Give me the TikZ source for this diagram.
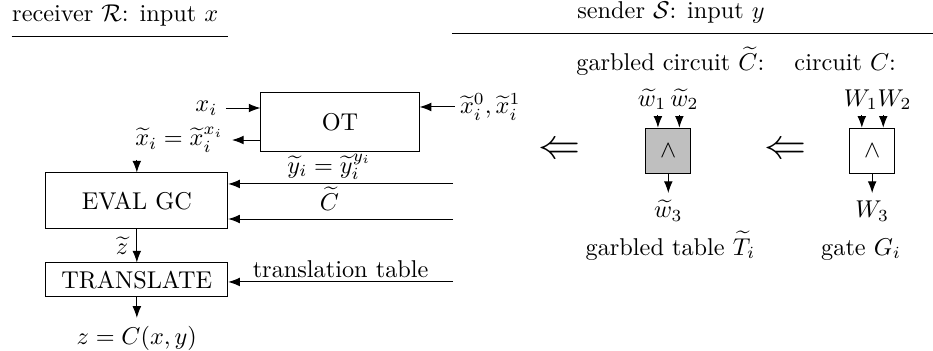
\documentclass[tikz,border=0pt]{standalone}
\usepackage{amsmath, amssymb}
\usetikzlibrary{positioning,arrows.meta}

\begin{document}
\begin{tikzpicture}[
  >=Latex,
  blk/.style={draw, minimum width=2.63cm, inner sep=0pt},
  gate/.style={draw, minimum width=0.65cm, minimum height=0.65cm, inner sep=0pt},
  arr/.style={->},
  lbl/.style={inner sep=1.5pt},
]
\useasboundingbox (0,0) rectangle (13.50,-5.065);

% party headers
\node[anchor=base west, inner sep=0pt] (recv) at (0.17,-0.31) {receiver $\mathcal{R}$: input $x$};
\node[anchor=base, inner sep=0pt] (send) at (9.71,-0.27) {sender $\mathcal{S}$: input $y$};
\draw (0.17,-0.535) -- (3.30,-0.535);
\draw (6.54,-0.49) -- (13.50,-0.49);

% receiver side
\node[draw, minimum width=2.29cm, minimum height=0.84cm] (ot) at (4.92,-1.765) {OT};
\node[blk, minimum height=0.81cm] (eval) at (1.98,-2.908) {EVAL GC};
\node[blk, minimum height=0.49cm] (trans) at (1.98,-4.05) {TRANSLATE};

\coordinate (xin)  at (3.27,-1.563);
\coordinate (xout) at (3.357,-2.026);
\coordinate (kin)  at (6.58,-1.548);
\coordinate (xtop) at (1.98,-2.315);
\coordinate (yin)  at (6.555,-2.662);
\coordinate (cin)  at (6.555,-3.169);
\coordinate (tin)  at (6.555,-4.08);
\coordinate (zout) at (1.98,-4.6);

\draw[arr] (xin) -- (xin -| ot.west);
\node[left] (xlbl) at (xin) {$x_i$};
\draw[arr] (xout -| ot.west) -- (xout);
\node[left] (xolbl) at (xout) {$\widetilde{x}_i = \widetilde{x}_i^{x_i}$};
\draw[arr] (kin) -- (kin -| ot.east);
\node[right, inner sep=2pt] (klbl) at (kin) {$\widetilde{x}_i^0, \widetilde{x}_i^1$};

\draw[arr] (xtop) -- (eval.north);
\draw[arr] (yin) -- (yin -| eval.east) node[lbl, pos=0.55, above] (ylbl) {$\widetilde{y}_i = \widetilde{y}_i^{y_i}$};
\draw[arr] (cin) -- (cin -| eval.east) node[pos=0.55, above] (clbl) {$\widetilde{C}$};
\draw[arr] (eval) -- (trans) node[midway, left] (zlbl) {$\widetilde{z}$};
\draw[arr] (tin) -- (tin -| trans.east) node[lbl, midway, above] (tlbl) {translation table};
\draw[arr] (trans) -- (zout);
\node[below] (zolbl) at (zout) {$z = C(x,y)$};

% sender side: garbled gate
\node (imp1) at (8.10,-2.18) {\LARGE$\Leftarrow$};
\node[anchor=base] (gctitle) at (9.70,-1.02) {garbled circuit $\widetilde{C}$:};
\node[gate, fill=black!25] (gg) at (9.67,-2.18) {$\wedge$};
\coordinate (gw1) at (9.52,-1.664);
\coordinate (gw2) at (9.83,-1.664);
\coordinate (gw3) at (9.67,-2.793);
\draw[arr] (gw1) -- (gw1 |- gg.north);
\draw[arr] (gw2) -- (gw2 |- gg.north);
\draw[arr] (gg.south) -- (gw3);
\node[anchor=base] (gwin) at (9.67,-1.534) {$\widetilde{w}_1\,\widetilde{w}_2$};
\node[anchor=base] (gwout) at (9.67,-3.15) {$\widetilde{w}_3$};
\node[anchor=base] (gtab) at (9.70,-3.69) {garbled table $\widetilde{T}_i$};

% sender side: plain gate
\node (imp2) at (11.37,-2.18) {\LARGE$\Leftarrow$};
\node[anchor=base] (ctitle) at (12.23,-1.02) {circuit $C$:};
\node[gate] (pg) at (12.62,-2.18) {$\wedge$};
\coordinate (pw1) at (12.47,-1.664);
\coordinate (pw2) at (12.78,-1.664);
\coordinate (pw3) at (12.62,-2.793);
\draw[arr] (pw1) -- (pw1 |- pg.north);
\draw[arr] (pw2) -- (pw2 |- pg.north);
\draw[arr] (pg.south) -- (pw3);
\node[anchor=base] (pwin) at (12.70,-1.534) {$W_1W_2$};
\node[anchor=base] (pwout) at (12.62,-3.15) {$W_3$};
\node[anchor=base] (gate) at (12.46,-3.69) {gate $G_i$};
\end{tikzpicture}
\end{document}
